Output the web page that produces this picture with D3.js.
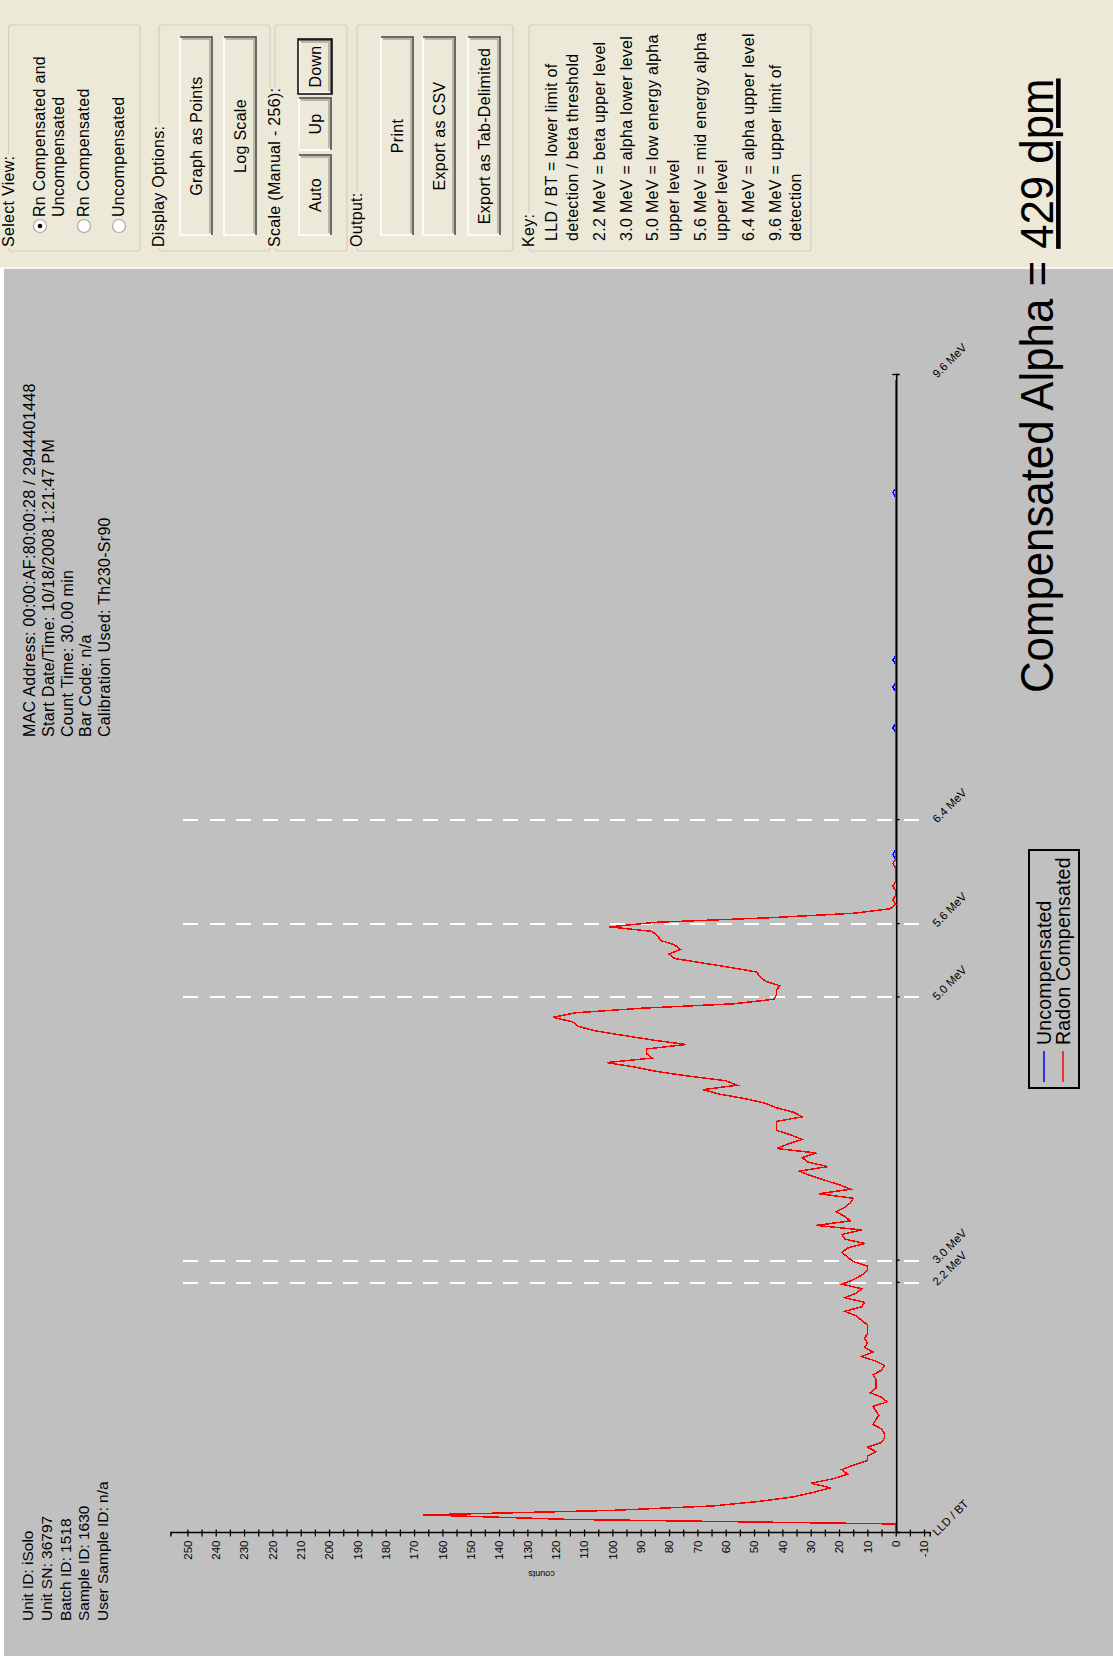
<!DOCTYPE html>
<html>
<head>
<meta charset="utf-8">
<script src="https://cdn.jsdelivr.net/npm/d3@7"></script>
<style>
  html, body { margin: 0; padding: 0; background: #ffffff; }
  svg { display: block; }
  text { font-family: "Liberation Sans", Arial, sans-serif; fill: #000; }
</style>
</head>
<body>
<svg id="screen" width="1113" height="1659"></svg>
<script>
// ---------------- data ----------------
// Counts per channel (256 channels), radon compensated spectrum
const compensated = [
  0, 0, 0, 115, 167, 100, 64, 48, 36, 29,
  23, 30, 22, 17, 19, 15, 10, 10, 7, 10,
  5, 4, 4, 5, 8, 7, 6, 7, 8, 3,
  5, 9, 7, 7, 7, 8, 5, 4, 7, 12,
  8, 11, 10, 11, 10, 10, 10, 12, 14, 18,
  12, 11, 18, 14, 12, 19, 15, 12, 10, 10,
  15, 17, 19, 17, 11, 18, 19, 12, 28, 16,
  18, 21, 18, 16, 15, 27, 16, 20, 25, 30,
  34, 24, 31, 33, 28, 42, 38, 33, 37, 42,
  42, 42, 33, 36, 42, 46, 53, 62, 68, 56,
  60, 73, 84, 92, 102, 86, 88, 88, 74, 86,
  96, 106, 112, 114, 121, 113, 90, 57, 43, 42,
  42, 41, 46, 48, 49, 58, 68, 78, 80, 76,
  78, 83, 84, 86, 101, 85, 45, 15, 2, 0,
  1, 0, 0, 1, 0, 0, 0, 0, 1, 0,
  0, 0, 0, 0, 0, 0, 0, 0, 0, 0,
  0, 0, 0, 0, 0, 0, 0, 0, 0, 0,
  0, 0, 0, 0, 0, 0, 0, 0, 0, 0,
  0, 0, 0, 0, 0, 0, 0, 0, 0, 0,
  0, 0, 0, 0, 0, 0, 0, 0, 0, 0,
  0, 0, 0, 0, 0, 0, 0, 0, 0, 0,
  0, 0, 0, 0, 0, 0, 0, 0, 0, 0,
  0, 0, 0, 0, 0, 0, 0, 0, 0, 0,
  0, 0, 0, 0, 0, 0, 0, 0, 0, 0,
  0, 0, 0, 0, 0, 0, 0, 0, 0, 0,
  0, 0, 0, 0, 0, 0
];

// Counts per channel, uncompensated spectrum
const uncompensated = [
  0, 0, 0, 115, 167, 100, 64, 48, 36, 29,
  23, 30, 22, 17, 19, 15, 10, 10, 7, 10,
  5, 4, 4, 5, 8, 7, 6, 7, 8, 3,
  5, 9, 7, 7, 7, 8, 5, 4, 7, 12,
  8, 11, 10, 11, 10, 10, 10, 12, 14, 18,
  12, 11, 18, 14, 12, 19, 15, 12, 10, 10,
  15, 17, 19, 17, 11, 18, 19, 12, 28, 16,
  18, 21, 18, 16, 15, 27, 16, 20, 25, 30,
  34, 24, 31, 33, 28, 42, 38, 33, 37, 42,
  42, 42, 33, 36, 42, 46, 53, 62, 68, 56,
  60, 73, 84, 92, 102, 86, 88, 88, 74, 86,
  96, 106, 112, 114, 121, 113, 90, 57, 43, 42,
  42, 41, 46, 48, 49, 58, 68, 78, 80, 76,
  78, 83, 84, 86, 101, 85, 45, 15, 2, 0,
  1, 0, 0, 1, 0, 0, 0, 0, 1, 0,
  1, 0, 0, 0, 0, 0, 0, 0, 0, 0,
  0, 0, 0, 0, 0, 0, 0, 0, 0, 0,
  0, 0, 0, 0, 0, 0, 0, 0, 1, 0,
  0, 0, 0, 0, 0, 0, 0, 1, 0, 0,
  0, 0, 0, 1, 0, 0, 0, 0, 0, 0,
  0, 0, 0, 0, 0, 0, 0, 0, 0, 0,
  0, 0, 0, 0, 0, 0, 0, 0, 0, 0,
  0, 0, 0, 0, 0, 0, 0, 0, 0, 0,
  1, 0, 0, 0, 0, 0, 0, 0, 0, 0,
  0, 0, 0, 0, 0, 0, 0, 0, 0, 0,
  0, 0, 0, 0, 0, 0
];

// Energy levels (label, channel where the level sits, drawn as dashed guide)
const energyLabels   = ["LLD / BT", "2.2 MeV", "3.0 MeV", "5.0 MeV", "5.6 MeV", "6.4 MeV", "9.6 MeV"];
const energyChannels = [0, 55.3, 60.2, 118.4, 134.6, 157.6, 256];
const energyDashed   = [false, true, true, true, true, true, false];

// Count axis labels
const countLabels = [-10, 0, 10, 20, 30, 40, 50, 60, 70, 80, 90, 100, 110, 120, 130,
                     140, 150, 160, 170, 180, 190, 200, 210, 220, 230, 240, 250];

const infoUnit = ["Unit ID: iSolo", "Unit SN: 36797", "Batch ID: 1518", "Sample ID: 1630", "User Sample ID: n/a"];
const infoRun = ["MAC Address: 00:00:AF:80:00:28 / 2944401448", "Start Date/Time: 10/18/2008 1:21:47 PM",
                 "Count Time: 30.00 min", "Bar Code: n/a", "Calibration Used: Th230-Sr90"];

const viewOptions = [["Rn Compensated and", "Uncompensated"], ["Rn Compensated"], ["Uncompensated"]];
const displayButtons = ["Graph as Points", "Log Scale"];
const scaleButtons = ["Auto", "Up", "Down"];
const outputButtons = ["Print", "Export as CSV", "Export as Tab-Delimited"];
const keyLines = [
  ["LLD / BT = lower limit of", "detection / beta threshold"],
  ["2.2 MeV = beta upper level"],
  ["3.0 MeV = alpha lower level"],
  ["5.0 MeV = low energy alpha", "upper level"],
  ["5.6 MeV = mid energy alpha", "upper level"],
  ["6.4 MeV = alpha upper level"],
  ["9.6 MeV = upper limit of", "detection"]
];
const seriesNames = ["Uncompensated", "Radon Compensated"];
const seriesColors = ["#0000ff", "#ff0000"];
const headline = "Compensated Alpha = ";
const headlineValue = "429 dpm";

// ---------------- drawing ----------------
// The application window is laid out in landscape and shown turned a quarter turn,
// so everything is drawn in a landscape frame (u along, v down) rotated -90deg.
const svg = d3.select("#screen");
const root = svg.append("g").attr("transform", "translate(0,1659) rotate(-90)");

const UI = 16;
const UI_SPACING = 0.3;
const beige = "#ece9d8";

// backgrounds
root.append("rect").attr("x", 0).attr("y", 0).attr("width", 1659).attr("height", 1113).attr("fill", "#ffffff");
root.append("rect").attr("x", 3).attr("y", 4).attr("width", 1388).attr("height", 1109).attr("fill", "#c0c0c0");
root.append("rect").attr("x", 1391).attr("y", 0).attr("width", 268).attr("height", 1113).attr("fill", beige);
root.append("line").attr("x1", 1391).attr("x2", 1391).attr("y1", 0).attr("y2", 1113)
  .attr("stroke", "#f5f4ee").attr("stroke-width", 2);

// ---- info text ----
function textBlock(lines, u0, v0, step, size, spacing) {
  root.append("g").selectAll("text").data(lines).join("text")
    .attr("x", u0).attr("y", (d, i) => v0 + i * step)
    .attr("font-size", size).attr("letter-spacing", spacing).text(d => d);
}
textBlock(infoUnit, 38, 33, 18.8, 15.5, 0);
textBlock(infoRun, 922, 35, 18.8, UI, UI_SPACING);

// ---- scales ----
const x = d3.scaleLinear().domain([0, 256]).range([126, 1284]);      // channel -> u
const y = d3.scaleLinear().domain([-12, 256]).range([929.7, 170.4]);  // counts  -> v

const plot = root.append("g");

// dashed energy guides
const markers = energyLabels.map((label, i) => ({ label, ch: energyChannels[i], dashed: energyDashed[i] }));
plot.append("g").selectAll("line").data(markers.filter(m => m.dashed)).join("line")
  .attr("x1", d => x(d.ch)).attr("x2", d => x(d.ch))
  .attr("y1", 183).attr("y2", 923)
  .attr("stroke", "#ffffff").attr("stroke-width", 2).attr("stroke-dasharray", "15 11.7")
  .attr("shape-rendering", "crispEdges");

// counts axis
const minorTicks = countLabels.flatMap(t => [t, t + 5]).filter(t => t <= 250);
const labelSet = new Set(countLabels);
const yAxis = d3.axisLeft(y).tickValues(minorTicks).tickSizeOuter(0).tickSize(3.5).tickPadding(4)
  .tickFormat(d => labelSet.has(d) ? String(d) : "");
plot.append("g").attr("transform", `translate(${x(0)},0)`).call(yAxis)
  .call(a => a.select(".domain").attr("stroke", "#000").attr("stroke-width", 1.5))
  .call(a => a.selectAll(".tick line").attr("x1", 3.5).attr("x2", -3.5).attr("stroke", "#000").attr("stroke-width", 1.3))
  .call(a => a.selectAll(".tick text").attr("font-size", 11.5).attr("font-family", "Liberation Sans, Arial, sans-serif").attr("fill", "#000"));

// counts axis title
plot.append("text")
  .attr("transform", `translate(88,${y(125)}) rotate(-90)`)
  .attr("text-anchor", "middle").attr("font-size", 9).text("counts");

// energy axis
const xAxis = d3.axisBottom(x).tickValues(energyChannels).tickSizeOuter(0).tickSize(3).tickFormat((d, i) => energyLabels[i]);
plot.append("g").attr("transform", `translate(0,${y(0) + 0.5})`).call(xAxis)
  .call(a => a.select(".domain").attr("stroke", "#000").attr("stroke-width", 1.6))
  .call(a => a.selectAll(".tick line").attr("stroke", "#000").attr("stroke-width", 1.3)
      .attr("y1", (d, i) => i === energyChannels.length - 1 ? -4 : 0).attr("y2", 3.5))
  .call(a => a.selectAll(".tick text")
      .attr("x", 0).attr("y", 0).attr("dy", 0)
      .attr("transform", "translate(-4,41) rotate(45)")
      .attr("text-anchor", "start").attr("font-size", 11.5).attr("fill", "#000")
      .attr("font-family", "Liberation Sans, Arial, sans-serif"));

// spectra
const line = d3.line().x((d, i) => x(i)).y(d => y(d));
plot.append("path").datum(uncompensated).attr("d", line)
  .attr("fill", "none").attr("stroke", seriesColors[0]).attr("stroke-width", 1.5)
  .attr("shape-rendering", "crispEdges");
plot.append("path").datum(compensated).attr("d", line)
  .attr("fill", "none").attr("stroke", seriesColors[1]).attr("stroke-width", 1.5)
  .attr("shape-rendering", "crispEdges");

// legend
const lg = root.append("g");
lg.append("rect").attr("x", 571).attr("y", 1029).attr("width", 238).attr("height", 50)
  .attr("fill", "none").attr("stroke", "#000").attr("stroke-width", 2);
seriesNames.forEach((name, i) => {
  const v = 1044 + i * 19;
  lg.append("line").attr("x1", 577).attr("x2", 608).attr("y1", v).attr("y2", v)
    .attr("stroke", seriesColors[i]).attr("stroke-width", 1.5);
  lg.append("text").attr("x", 614).attr("y", v + 6.5).attr("font-size", 19.5).attr("letter-spacing", 0.2).text(name);
});

// headline
const hl = root.append("text").attr("transform", "translate(966,1053) scale(0.952,1)")
  .attr("font-family", "Lato, 'Open Sans', sans-serif").attr("font-size", 46).attr("fill", "#000");
hl.append("tspan").text(headline);
hl.append("tspan").attr("text-decoration", "underline").text(headlineValue);

// ---- control panel ----
const panel = root.append("g");
const boxU0 = 1408, boxU1 = 1634;
function label(sel) { return sel.attr("font-size", UI).attr("letter-spacing", UI_SPACING); }
function groupBox(title, v0, v1) {
  panel.append("rect").attr("x", boxU0).attr("y", v0).attr("width", boxU1 - boxU0).attr("height", v1 - v0)
    .attr("rx", 3).attr("fill", "none").attr("stroke", "#d0d0bf").attr("stroke-width", 1.2);
  const t = label(panel.append("text").attr("x", boxU0 + 4).attr("y", v0 + 5)).text(title);
  const bb = t.node().getBBox();
  panel.insert("rect", () => t.node()).attr("x", bb.x - 1).attr("y", bb.y).attr("width", bb.width + 2).attr("height", bb.height)
    .attr("fill", beige);
}
function button(text, u0, u1, v0, v1, focused) {
  const b = panel.append("g");
  b.append("rect").attr("x", u0).attr("y", v0).attr("width", u1 - u0).attr("height", v1 - v0).attr("fill", beige);
  b.append("path").attr("d", `M${u0},${v1}V${v0}H${u1}`).attr("fill", "none").attr("stroke", "#ffffff").attr("stroke-width", 1.5);
  b.append("path").attr("d", `M${u0},${v1}H${u1}V${v0}`).attr("fill", "none").attr("stroke", "#404040").attr("stroke-width", 1.5);
  b.append("path").attr("d", `M${u0 + 2},${v1 - 2}H${u1 - 2}V${v0 + 2}`).attr("fill", "none").attr("stroke", "#aca899").attr("stroke-width", 1.5);
  if (focused) {
    b.append("rect").attr("x", u0 - 1).attr("y", v0 - 1).attr("width", u1 - u0 + 2).attr("height", v1 - v0 + 2)
      .attr("fill", "none").attr("stroke", "#000").attr("stroke-width", 1.5);
  }
  label(b.append("text").attr("x", (u0 + u1) / 2).attr("y", (v0 + v1) / 2 + 5.5).attr("text-anchor", "middle")).text(text);
}

groupBox("Select View:", 8.5, 140);
groupBox("Display Options:", 159, 270);
groupBox("Scale (Manual - 256):", 275, 347);
groupBox("Output:", 357, 513);
groupBox("Key:", 529, 811);

// radio options
const radioV = [40, 84, 119];
viewOptions.forEach((lines, i) => {
  panel.append("circle").attr("cx", 1433).attr("cy", radioV[i]).attr("r", 6.5)
    .attr("fill", "#ffffff").attr("stroke", "#a9a99c").attr("stroke-width", 1.2);
  if (i === 0) panel.append("circle").attr("cx", 1433).attr("cy", radioV[i]).attr("r", 2.3).attr("fill", "#000");
  lines.forEach((t, j) => label(panel.append("text").attr("x", 1442).attr("y", radioV[i] + 5 + j * 18.5)).text(t));
});

// buttons
displayButtons.forEach((t, i) => button(t, 1424, 1622, [180, 224][i], [212, 256][i], false));
button(scaleButtons[0], 1424, 1504, 299, 331, false);
button(scaleButtons[1], 1509, 1561, 299, 331, false);
button(scaleButtons[2], 1566, 1619, 299, 331, true);
outputButtons.forEach((t, i) => button(t, 1424, 1622, [381, 423, 468][i], [413, 455, 500][i], false));

// key text
let kv = 557;
keyLines.forEach(item => {
  item.forEach((t, j) => {
    label(panel.append("text").attr("x", 1418).attr("y", kv)).text(t);
    if (j < item.length - 1) kv += 20.7;
  });
  kv += 26.9;
});
</script>
</body>
</html>
